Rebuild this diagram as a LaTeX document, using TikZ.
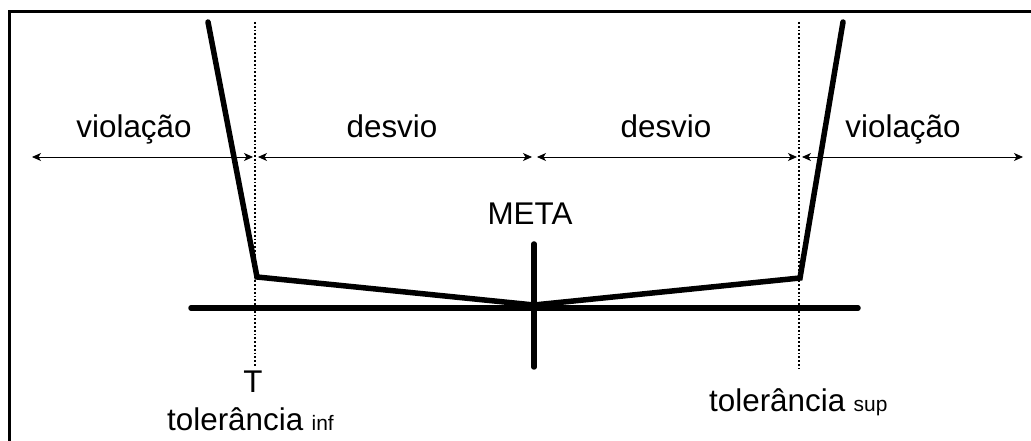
\documentclass[tikz,border=0pt]{standalone}
\usepackage{fontspec}
\setmainfont{Liberation Sans}
\usetikzlibrary{arrows.meta}
\tikzset{
  thickline/.style={line width=5.5bp, line cap=round, line join=miter},
  frameline/.style={line width=3bp},
  dimarrow/.style={line width=0.8bp, {Stealth[length=9bp,width=8bp,inset=2.5bp]}-{Stealth[length=9bp,width=8bp,inset=2.5bp]}},
  dottedline/.style={line width=1.4bp, dash pattern=on 1.8bp off 2bp},
  lbl/.style={inner sep=0pt, font=\fontsize{31.5}{36}\selectfont},
  sublbl/.style={inner sep=0pt, font=\fontsize{21}{24}\selectfont}
}
\begin{document}
\begin{tikzpicture}[x=1bp,y=-1bp]
\useasboundingbox (0,0) rectangle (1031,441);
% frame
\coordinate (fr1) at (1031,12);
\coordinate (fr2) at (9,12);
\coordinate (fr3) at (9,441);
\draw[frameline] (fr1) -- (fr2) -- (fr3);
% key points
\coordinate (ltop) at (208,22);
\coordinate (lcor) at (257,277);
\coordinate (meta) at (534,305);
\coordinate (rcor) at (800,278);
\coordinate (rtop) at (843,22);
\coordinate (bl) at (191,308);
\coordinate (br) at (858,308);
\coordinate (vt) at (534,244);
\coordinate (vb) at (534,367);
% dotted verticals
\coordinate (dlt) at (255,22);
\coordinate (dlb) at (255,367);
\coordinate (drt) at (799,22);
\coordinate (drb) at (799,368);
\draw[dottedline] (dlt) -- (dlb);
\draw[dottedline] (drt) -- (drb);
% base line and meta vertical
\draw[thickline] (bl) -- (br);
\draw[thickline] (vt) -- (vb);
% V curve
\draw[thickline] (ltop) -- (lcor) -- (meta) -- (rcor) -- (rtop);
% arrows
\coordinate (a0) at (32,157);
\coordinate (a1) at (253,157);
\coordinate (a2) at (258,157);
\coordinate (a3) at (532,157);
\coordinate (a4) at (537,157);
\coordinate (a5) at (797,157);
\coordinate (a6) at (802,157);
\coordinate (a7) at (1023,157);
\draw[dimarrow] (a0) -- (a1);
\draw[dimarrow] (a2) -- (a3);
\draw[dimarrow] (a4) -- (a5);
\draw[dimarrow] (a6) -- (a7);
% labels
\node[lbl, anchor=base] (v1) at (134,138) {violação};
\node[lbl, anchor=base] (d1) at (392,138) {desvio};
\node[lbl, anchor=base] (d2) at (666,138) {desvio};
\node[lbl, anchor=base] (v2) at (903,138) {violação};
\node[lbl, anchor=base] (mt) at (530,225) {META};
\node[lbl, anchor=base] (tt) at (253,393) {T};
\node[lbl, anchor=base west] (ti) at (167,430) {tolerância};
\node[sublbl, anchor=base west] (tis) at ([xshift=8bp]ti.base east) {inf};
\node[lbl, anchor=base west] (ts) at (709,412) {tolerância};
\node[sublbl, anchor=base west] (tss) at ([xshift=8bp]ts.base east) {sup};
\end{tikzpicture}
\end{document}
